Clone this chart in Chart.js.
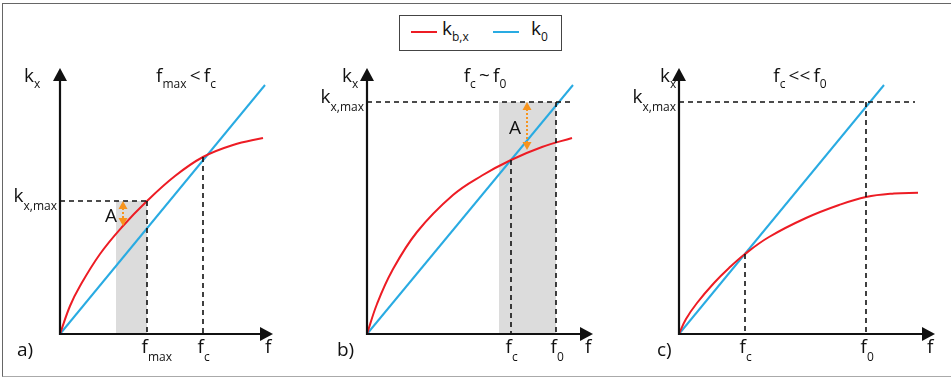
<!DOCTYPE html>
<html>
<head>
<meta charset="utf-8">
<script src="https://cdn.jsdelivr.net/npm/chart.js@4.4.1/dist/chart.umd.min.js"></script>
<style>
  body { margin: 0; background: #fff; }
  #wrap { position: relative; width: 951px; height: 378px; overflow: hidden; font-family: "Open Sans", sans-serif; color: #111; }
  #frame { position: absolute; left: 2px; top: 3px; width: 1000px; height: 372px; border: 1.5px solid #666; border-bottom-color: #aaa; }
  .panel { position: absolute; top: 0; height: 378px; }
  #legend { position: absolute; left: 399px; top: 15px; width: 161px; height: 34px; border: 1.5px solid #444; background: #fff; }
  #legend .ln { position: absolute; top: 15px; height: 2px; width: 26px; }
  #legend .lab { position: absolute; top: 3px; font-size: 19px; line-height: 19px; }
  #legend sub { font-size: 12px; vertical-align: -6px; }
</style>
</head>
<body>
<div id="wrap">
  <div id="frame"></div>
  <canvas id="chartA" class="panel" style="left:0px" width="310" height="378"></canvas>
  <canvas id="chartB" class="panel" style="left:310px" width="310" height="378"></canvas>
  <canvas id="chartC" class="panel" style="left:620px" width="331" height="378"></canvas>
  <div id="legend">
    <span class="ln" style="left:11px;background:#ed1c24"></span>
    <span class="lab" style="left:42px">k<sub>b,x</sub></span>
    <span class="ln" style="left:93px;background:#29abe2"></span>
    <span class="lab" style="left:131px">k<sub>0</sub></span>
  </div>
</div>
<script>
// values in arbitrary units (f on x, k_x on y)

// a) f_max < f_c
const fA = [0, 1.0, 2.0, 4.0, 6.2, 8.7, 11.5, 14.3, 17.3, 20.3];
const kbA = [0, 2.8, 4.8, 8.0, 10.7, 13.3, 15.8, 17.7, 18.9, 19.6];
const f0LineA = [0, 20.5];
const k0A = [0, 24.9];
const xTicksA = [8.7, 14.3];
const xTickLabelsA = [[["f", "max"]], [["f", "c"]]];
const dropFromA = [13.3, 17.7];
const kMaxA = 13.3;
const kMaxEndA = 8.7;
const shadeA = [5.6, 8.7];
const arrowA = [6.3, 13.3, 10.8];

// b) f_c ~ f_0
const fB = [0, 1.0, 2.5, 5.0, 8.6, 11.5, 14.4, 17.5, 20.5];
const kbB = [0, 3.0, 6.3, 10.2, 13.9, 15.85, 17.4, 18.7, 19.6];
const f0LineB = [0, 20.6];
const k0B = [0, 24.9];
const xTicksB = [14.4, 18.9];
const xTickLabelsB = [[["f", "c"]], [["f", "0"]]];
const dropFromB = [17.4, 23.2];
const kMaxB = 23.2;
const kMaxEndB = 20.6;
const shadeB = [13.2, 18.9];
const arrowB = [16.0, 23.2, 18.4];

// c) f_c << f_0
const fC = [0, 0.7, 1.8, 3.5, 5.0, 6.6, 9.0, 12.7, 16.0, 18.7, 21.5, 23.9];
const kbC = [0, 1.5, 3.1, 5.1, 6.6, 8.0, 9.7, 11.6, 12.9, 13.7, 14.05, 14.13];
const f0LineC = [0, 20.5];
const k0C = [0, 24.9];
const xTicksC = [6.6, 18.7];
const xTickLabelsC = [[["f", "c"]], [["f", "0"]]];
const dropFromC = [8.0, 23.2];
const kMaxC = 23.2;
const kMaxEndC = 23.6;

const yMax = 26.6;
const PX = 10; // pixels per unit

const RED = "#ed1c24", BLUE = "#29abe2", ORANGE = "#f7941d", SHADE = "#dcdcdc", INK = "#111";
const mainFont = '19px "Open Sans", sans-serif';
const subFont = '12px "Open Sans", sans-serif';

const partsWidth = (ctx, parts) => {
  let w = 0;
  parts.forEach(([m, s]) => {
    ctx.font = mainFont; w += ctx.measureText(m).width;
    ctx.font = subFont; w += ctx.measureText(s).width;
  });
  return w;
};

const drawParts = (ctx, parts, x, y, align, subDy) => {
  const w = partsWidth(ctx, parts);
  let cx = align === "right" ? x - w : align === "center" ? x - w / 2 : x;
  ctx.textAlign = "left";
  ctx.textBaseline = "alphabetic";
  parts.forEach(([m, s]) => {
    ctx.font = mainFont; ctx.fillText(m, cx, y); cx += ctx.measureText(m).width;
    if (s) { ctx.font = subFont; ctx.fillText(s, cx, y + subDy); cx += ctx.measureText(s).width; }
  });
};

const makeSketch = (p) => ({
  id: "sketch" + p.id,
  beforeDatasetsDraw(chart) {
    if (!p.shade) return;
    const { ctx, scales: { x, y } } = chart;
    const x1 = x.getPixelForValue(p.shade[0]), x2 = x.getPixelForValue(p.shade[1]);
    const yt = y.getPixelForValue(p.kMax), yb = y.getPixelForValue(0);
    ctx.save();
    ctx.fillStyle = SHADE;
    ctx.fillRect(x1, yt, x2 - x1, yb - yt);
    ctx.restore();
  },
  afterDatasetsDraw(chart) {
    const { ctx, chartArea: a, scales: { x, y } } = chart;
    const x0 = x.getPixelForValue(0), y0 = y.getPixelForValue(0);
    const yk = y.getPixelForValue(p.kMax);
    ctx.save();

    // dashed guides
    ctx.strokeStyle = INK;
    ctx.lineWidth = 1.6;
    ctx.setLineDash([5, 4]);
    ctx.beginPath();
    ctx.moveTo(x0, yk);
    ctx.lineTo(x.getPixelForValue(p.kMaxEnd), yk);
    p.xTicks.forEach((v, i) => {
      const px = x.getPixelForValue(v);
      ctx.moveTo(px, y.getPixelForValue(p.dropFrom[i]));
      ctx.lineTo(px, y0);
    });
    ctx.stroke();
    ctx.setLineDash([]);

    // axes with arrow heads
    ctx.lineWidth = 2.2;
    ctx.fillStyle = INK;
    ctx.beginPath();
    ctx.moveTo(x0, y0 + 1);
    ctx.lineTo(x0, a.top + 10);
    ctx.moveTo(x0 - 1, y0);
    ctx.lineTo(a.right - 10, y0);
    ctx.stroke();
    ctx.beginPath();
    ctx.moveTo(x0, a.top);
    ctx.lineTo(x0 - 7, a.top + 13);
    ctx.lineTo(x0 + 7, a.top + 13);
    ctx.closePath();
    ctx.fill();
    ctx.beginPath();
    ctx.moveTo(a.right, y0);
    ctx.lineTo(a.right - 13, y0 - 7);
    ctx.lineTo(a.right - 13, y0 + 7);
    ctx.closePath();
    ctx.fill();

    // orange double arrow "A"
    if (p.arrow) {
      const ax = x.getPixelForValue(p.arrow[0]);
      const ay1 = y.getPixelForValue(p.arrow[1]), ay2 = y.getPixelForValue(p.arrow[2]);
      ctx.strokeStyle = ORANGE;
      ctx.fillStyle = ORANGE;
      ctx.lineWidth = 2;
      ctx.setLineDash([2, 2]);
      ctx.beginPath();
      ctx.moveTo(ax, ay1 + 7);
      ctx.lineTo(ax, ay2 - 7);
      ctx.stroke();
      ctx.setLineDash([]);
      ctx.beginPath();
      ctx.moveTo(ax, ay1); ctx.lineTo(ax - 4.5, ay1 + 8); ctx.lineTo(ax + 4.5, ay1 + 8); ctx.closePath();
      ctx.moveTo(ax, ay2); ctx.lineTo(ax - 4.5, ay2 - 8); ctx.lineTo(ax + 4.5, ay2 - 8); ctx.closePath();
      ctx.fill();
      ctx.fillStyle = INK;
      drawParts(ctx, [["A", ""]], ax - 6, (ay1 + ay2) / 2 + 8, "right", 0);
    }

    // texts
    ctx.fillStyle = INK;
    drawParts(ctx, [["k", "x"]], x0 + p.kxDx, a.top + 14, "left", 6);
    drawParts(ctx, p.title, x0 + p.titleDx, a.top + 14, "center", 6);
    drawParts(ctx, [["k", "x,max"]], x0 - 3, yk + 1, "right", 8);
    p.xTicks.forEach((v, i) => {
      drawParts(ctx, p.xTickLabels[i], x.getPixelForValue(v) - 5.5, y0 + 19, "left", 8);
    });
    drawParts(ctx, [["f", ""]], a.right - 8, y0 + 19, "left", 0);
    drawParts(ctx, [[p.name, ""]], x0 + p.caseDx, y0 + 22, "left", 0);
    ctx.restore();
  },
});

const panels = [
  {
    id: "A", canvas: "chartA", width: 310, left: 60, xMax: 21.3,
    f: fA, kb: kbA, fLine: f0LineA, k0: k0A,
    xTicks: xTicksA, xTickLabels: xTickLabelsA, dropFrom: dropFromA,
    kMax: kMaxA, kMaxEnd: kMaxEndA, shade: shadeA, arrow: arrowA,
    name: "a)", title: [["f", "max"], ["\u2009<\u2009", ""], ["f", "c"]],
    kxDx: -36, titleDx: 126, caseDx: -43,
  },
  {
    id: "B", canvas: "chartB", width: 310, left: 57, xMax: 22.6,
    f: fB, kb: kbB, fLine: f0LineB, k0: k0B,
    xTicks: xTicksB, xTickLabels: xTickLabelsB, dropFrom: dropFromB,
    kMax: kMaxB, kMaxEnd: kMaxEndB, shade: shadeB, arrow: arrowB,
    name: "b)", title: [["f", "c"], ["\u2009~\u2009", ""], ["f", "0"]],
    kxDx: -25, titleDx: 118, caseDx: -30,
  },
  {
    id: "C", canvas: "chartC", width: 331, left: 59, xMax: 25.6,
    f: fC, kb: kbC, fLine: f0LineC, k0: k0C,
    xTicks: xTicksC, xTickLabels: xTickLabelsC, dropFrom: dropFromC,
    kMax: kMaxC, kMaxEnd: kMaxEndC, shade: null, arrow: null,
    name: "c)", title: [["f", "c"], ["\u2009<<\u2009", ""], ["f", "0"]],
    kxDx: -19, titleDx: 121, caseDx: -22,
  },
];

panels.forEach((p) => {
  const ctx = document.getElementById(p.canvas).getContext("2d");
  new Chart(ctx, {
    type: "line",
    data: {
      datasets: [
        {
          label: "k_b,x",
          data: p.f.map((v, i) => ({ x: v, y: p.kb[i] })),
          borderColor: RED,
          borderWidth: 2,
          pointRadius: 0,
          tension: 0.4,
          fill: false,
        },
        {
          label: "k_0",
          data: p.fLine.map((v, i) => ({ x: v, y: p.k0[i] })),
          borderColor: BLUE,
          borderWidth: 2,
          pointRadius: 0,
          fill: false,
        },
      ],
    },
    options: {
      responsive: false,
      animation: false,
      clip: false,
      layout: {
        padding: { left: p.left, right: p.width - p.left - p.xMax * PX, top: 68, bottom: 44 },
      },
      scales: {
        x: { type: "linear", min: 0, max: p.xMax, display: false },
        y: { type: "linear", min: 0, max: yMax, display: false },
      },
      plugins: { legend: { display: false }, tooltip: { enabled: false } },
    },
    plugins: [makeSketch(p)],
  });
});
</script>
</body>
</html>
